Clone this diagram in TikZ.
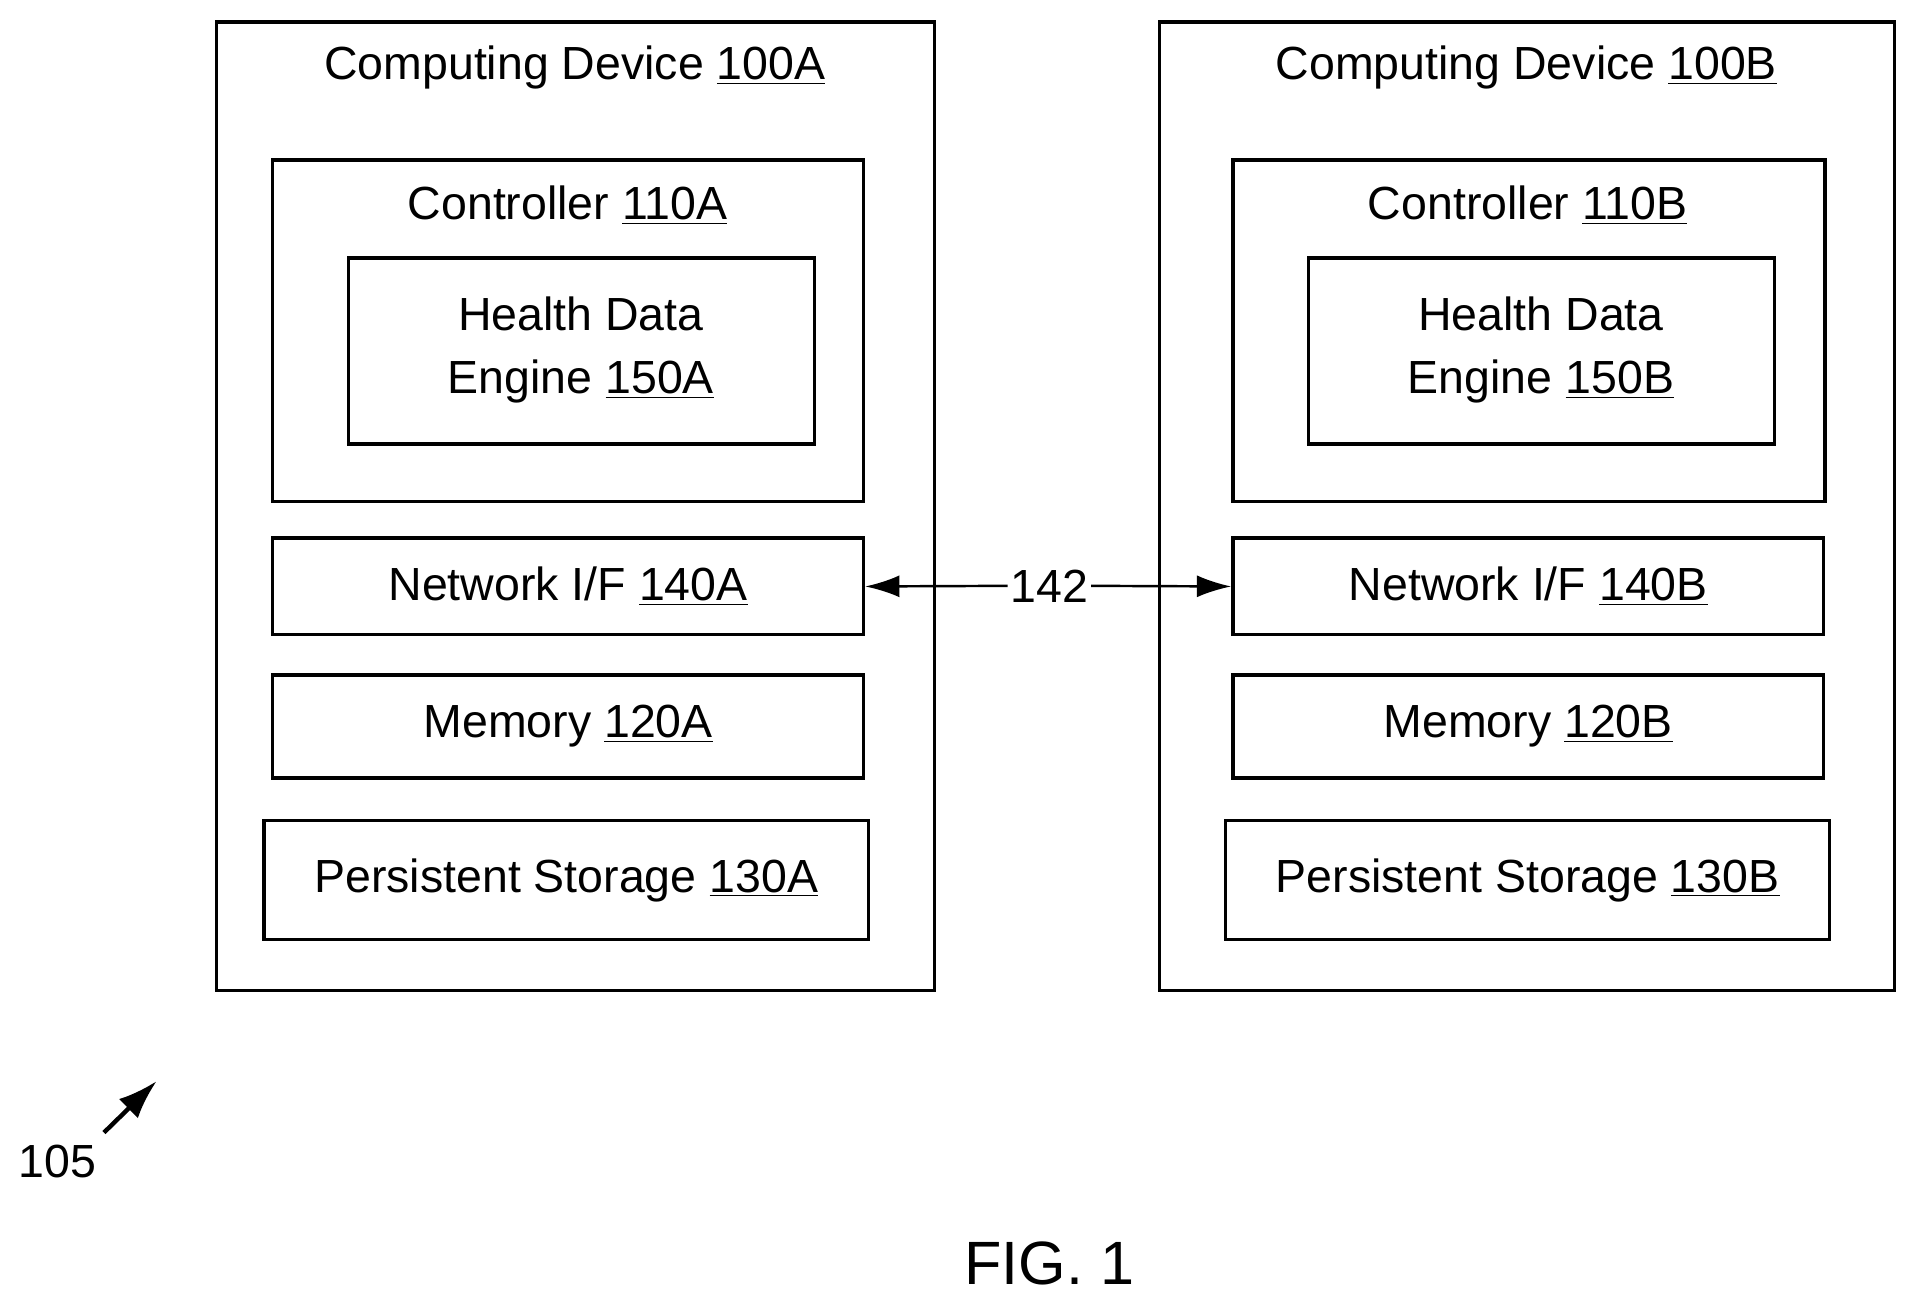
\documentclass[tikz,border=0pt]{standalone}
\usepackage{fontspec}
\setmainfont{Liberation Sans}
\begin{document}
\begin{tikzpicture}[x=0.5pt,y=-0.5pt,
  box/.style={draw,line width=1.4pt,inner sep=0pt,align=center},
  txt/.style={font=\fontsize{19}{26}\selectfont,align=center,inner sep=0pt},
  arr/.style={line width=1pt,-{Latex[length=14pt,width=9pt]}}]
\useasboundingbox (0,0) rectangle (1560,1068);
\usetikzlibrary{arrows.meta}
\newcommand\bx[5]{\node[box,minimum width={(#4-#2)*0.5pt},minimum height={(#5-#3)*0.5pt}] (#1) at ({(#2+#4)/2},{(#3+#5)/2}) {};}
% device A
\bx{devA}{177}{18}{764}{810}
\node[txt] (tA) at (470,55) {Computing Device \underline{100A}};
\bx{ctlA}{223}{131}{706}{410}
\node[txt] (tcA) at (464,168) {Controller \underline{110A}};
\bx{hdeA}{285}{211}{666}{363}
\node[txt] (thA) at (475,286) {Health Data\\Engine \underline{150A}};
\bx{netA}{223}{440}{706}{519}
\node[txt] at (netA) {Network I/F \underline{140A}};
\bx{memA}{223}{552}{706}{636}
\node[txt] at (memA) {Memory \underline{120A}};
\bx{psA}{216}{671}{710}{768}
\node[txt] at (psA) {Persistent Storage \underline{130A}};
% device B
\bx{devB}{948}{18}{1549}{810}
\node[txt] (tB) at (1248,55) {Computing Device \underline{100B}};
\bx{ctlB}{1008}{131}{1492}{410}
\node[txt] (tcB) at (1249,168) {Controller \underline{110B}};
\bx{hdeB}{1070}{211}{1451}{363}
\node[txt] (thB) at (1260,286) {Health Data\\Engine \underline{150B}};
\bx{netB}{1008}{440}{1491}{519}
\node[txt] at (netB) {Network I/F \underline{140B}};
\bx{memB}{1008}{552}{1491}{636}
\node[txt] at (memB) {Memory \underline{120B}};
\bx{psB}{1002}{671}{1496}{768}
\node[txt] at (psB) {Persistent Storage \underline{130B}};
% link
\node[txt,fill=white,inner sep=1pt] (l142) at (858,479) {142};
\draw[arr] (l142.west) -- (netA.east);
\draw[arr] (l142.east) -- (netB.west);
% 105
\node[txt] (r105) at (47,950) {105};
\coordinate (p105) at (128,884);
\draw[line width=1.8pt,-{Latex[length=16pt,width=11pt]}] (85,926) -- (p105);
\node[font=\fontsize{25}{30}\selectfont] (fig) at (858,1033) {FIG. 1};
\end{tikzpicture}
\end{document}
